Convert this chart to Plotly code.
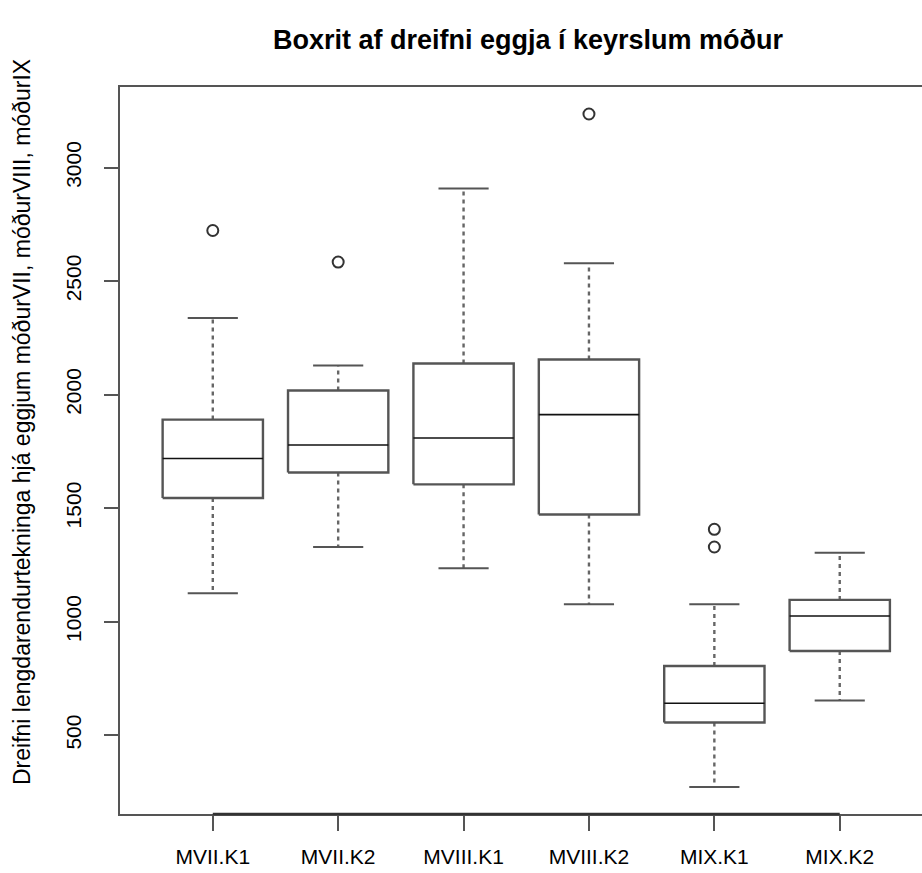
import plotly.graph_objects as go

# Group labels and five-number summaries for each box
groups = ["MVII.K1", "MVII.K2", "MVIII.K1", "MVIII.K2", "MIX.K1", "MIX.K2"]
lower_whisker = [1125, 1329, 1235, 1077, 272, 653]
q1 = [1545, 1657, 1605, 1472, 556, 871]
median = [1719, 1778, 1809, 1912, 641, 1025]
q3 = [1890, 2018, 2137, 2155, 805, 1096]
upper_whisker = [2338, 2128, 2908, 2579, 1077, 1304]
outliers = [[2723], [2584], [], [3236], [1329, 1407], []]

y_ticks = [500, 1000, 1500, 2000, 2500, 3000]

FONT = "Liberation Sans, Arial, sans-serif"
LINE = "#555555"
HALF_BOX = 0.4
HALF_CAP = 0.2

positions = list(range(1, len(groups) + 1))

box_x, box_y = [], []
med_x, med_y = [], []
wh_x, wh_y = [], []
cap_x, cap_y = [], []
out_x, out_y = [], []
for p, lw, a, m, b, uw, outs in zip(positions, lower_whisker, q1, median, q3,
                                    upper_whisker, outliers):
    box_x += [p - HALF_BOX, p + HALF_BOX, p + HALF_BOX, p - HALF_BOX, p - HALF_BOX, None]
    box_y += [a, a, b, b, a, None]
    med_x += [p - HALF_BOX, p + HALF_BOX, None]
    med_y += [m, m, None]
    wh_x += [p, p, None, p, p, None]
    wh_y += [b, uw, None, a, lw, None]
    cap_x += [p - HALF_CAP, p + HALF_CAP, None, p - HALF_CAP, p + HALF_CAP, None]
    cap_y += [uw, uw, None, lw, lw, None]
    for o in outs:
        out_x.append(p)
        out_y.append(o)

fig = go.Figure()
fig.add_trace(go.Scatter(x=wh_x, y=wh_y, mode="lines",
                         line=dict(color="#666666", width=2.4, dash="4px,4px"),
                         hoverinfo="skip"))
fig.add_trace(go.Scatter(x=cap_x, y=cap_y, mode="lines",
                         line=dict(color=LINE, width=2), hoverinfo="skip"))
fig.add_trace(go.Scatter(x=box_x, y=box_y, mode="lines",
                         line=dict(color=LINE, width=2.4), hoverinfo="skip"))
fig.add_trace(go.Scatter(x=med_x, y=med_y, mode="lines",
                         line=dict(color="#111111", width=1.6), hoverinfo="skip"))
fig.add_trace(go.Scatter(x=out_x, y=out_y, mode="markers",
                         marker=dict(symbol="circle-open", size=11, color="#333333",
                                     line=dict(color="#333333", width=2)),
                         hoverinfo="skip"))

# axis line spanning the first to the last group
fig.add_shape(type="line", xref="x", yref="paper", x0=positions[0], x1=positions[-1],
              y0=0, y1=0, line=dict(color="#333333", width=2.4))

fig.update_layout(
    width=922, height=873,
    margin=dict(l=120, r=0, t=87, b=59),
    plot_bgcolor="white", paper_bgcolor="white",
    showlegend=False,
    font=dict(family=FONT, color="black", size=21),
    title=dict(text="<b>Boxrit af dreifni eggja í keyrslum móður</b>",
               x=528 / 922, xref="container", xanchor="center",
               y=1 - 40 / 873, yref="container", yanchor="middle",
               font=dict(family=FONT, size=27, color="black")),
    xaxis=dict(range=[0.26, 6.656], tickvals=positions, ticktext=groups,
               showgrid=False, zeroline=False,
               showline=True, mirror=True, linecolor=LINE, linewidth=2,
               ticks="outside", ticklen=15, tickwidth=2, tickcolor=LINE,
               tickfont=dict(family=FONT, size=21, color="black"),
               ticklabelstandoff=8),
    yaxis=dict(range=[153, 3355], tickvals=y_ticks,
               showgrid=False, zeroline=False,
               showline=True, linecolor=LINE, linewidth=2,
               ticks="outside", ticklen=14, tickwidth=2, tickcolor=LINE,
               tickangle=-90,
               tickfont=dict(family=FONT, size=21, color="black"),
               ticklabelstandoff=15),
)

fig.add_annotation(
    text="Dreifni lengdarendurtekninga hjá eggjum móðurVII, móðurVIII, móðurIX",
    xref="paper", yref="paper", x=(22 - 120) / 802, y=(814 - 422) / 727,
    xanchor="center", yanchor="middle", textangle=-90, showarrow=False,
    font=dict(family=FONT, size=23, color="black"))

fig.write_html("out.html")
